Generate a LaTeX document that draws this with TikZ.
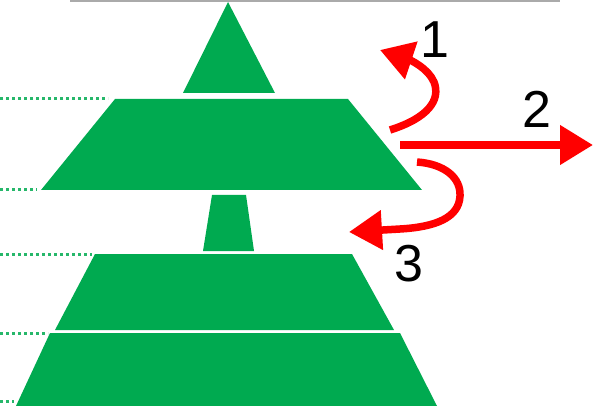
\documentclass[tikz,border=0pt]{standalone}
\usepackage{fontspec}
\setmainfont{Liberation Sans}
\usetikzlibrary{arrows.meta}
\definecolor{pgreen}{RGB}{0,170,80}
\definecolor{pred}{RGB}{255,0,0}
\definecolor{pgray}{RGB}{170,170,170}
\tikzset{
  block/.style={fill=pgreen, draw=none},
  dotline/.style={pgreen!85!white, line width=3pt, dash pattern=on 3pt off 3pt},
  redarrow/.style={pred, line width=7.5pt, -{Triangle[length=33pt 0 0,width=38pt 0 0]}},
  numlabel/.style={font=\fontsize{52}{52}\selectfont, text=black, inner sep=0pt}
}
\begin{document}
\begin{tikzpicture}[x=1pt,y=-1pt]
\useasboundingbox (0,0) rectangle (597,406);
% top gray line
\draw[pgray, line width=1.5pt] (70,0.8) -- (560,0.8);
% pyramid pieces
\fill[block] (228,2) -- (275,93) -- (183,93) -- cycle;
\fill[block] (115,99) -- (348,99) -- (422,190) -- (41,190) -- cycle;
\fill[block] (212,195) -- (246,195) -- (254,251) -- (203,251) -- cycle;
\fill[block] (95,254) -- (352,254) -- (394,330) -- (55,330) -- cycle;
\fill[block] (50,333) -- (400,333) -- (437,406) -- (16,406) -- cycle;
% dotted guide lines
\draw[dotline] (0,99) -- (108,99);
\draw[dotline] (0,190) -- (37,190);
\draw[dotline] (0,254) -- (92,254);
\draw[dotline] (0,333) -- (48,333);
\draw[dotline] (0,401) -- (14,401);
% arrows
\coordinate (s1) at (390,130);
\coordinate (t1) at (380,50);
\coordinate (s2) at (400,145);
\coordinate (t2) at (593,145);
\coordinate (s3) at (417,162);
\coordinate (t3) at (349,232);
\draw[redarrow] (s1) .. controls (428,118) and (441,100) .. (434,82)
  .. controls (428,68) and (410,60) .. (t1);
\draw[redarrow] (s2) -- (t2);
\draw[redarrow] (s3) .. controls (445,164) and (461,178) .. (460,196)
  .. controls (459,218) and (435,227) .. (400,229) -- (t3);
% labels
\node[numlabel] (l1) at (435,40) {1};
\node[numlabel] (l2) at (537,109) {2};
\node[numlabel] (l3) at (409,264) {3};
\end{tikzpicture}
\end{document}
